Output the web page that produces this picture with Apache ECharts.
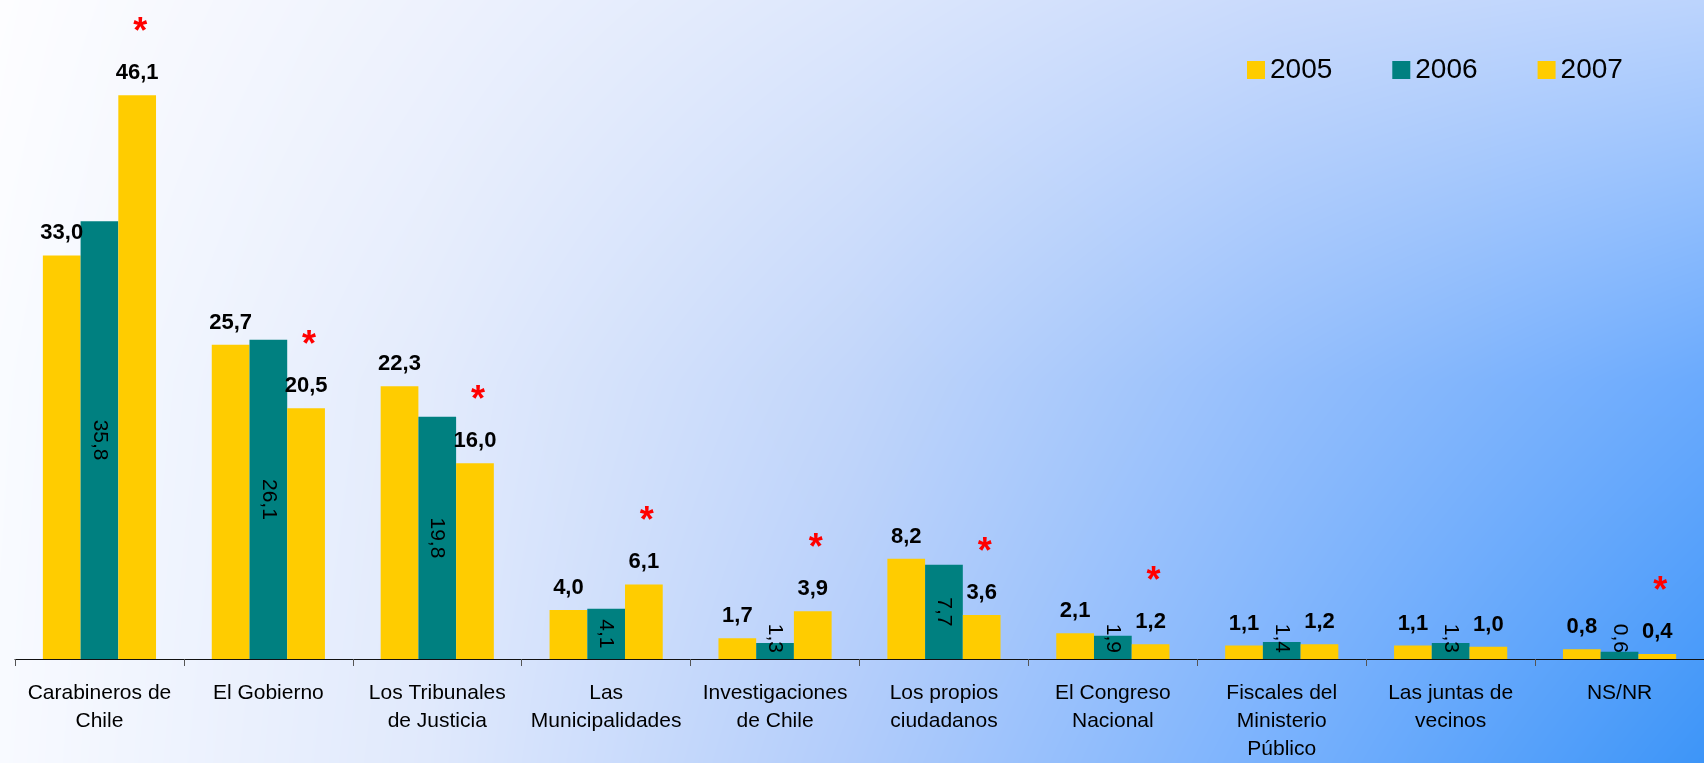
<!DOCTYPE html>
<html>
<head>
<meta charset="utf-8">
<script src="https://cdn.jsdelivr.net/npm/echarts@6/dist/echarts.min.js"></script>
<style>
  html, body { margin: 0; padding: 0; overflow: hidden; background: #ffffff; }
  #bg { position: absolute; left: 0; top: 0; }
  #chart { position: absolute; left: 0; top: 0; width: 1704px; height: 763px; }
</style>
</head>
<body>
<canvas id="bg" width="1704" height="763"></canvas>
<div id="chart"></div>
<script>
// ---------- data ----------
const categories = [
  'Carabineros de\nChile',
  'El Gobierno',
  'Los Tribunales\nde Justicia',
  'Las\nMunicipalidades',
  'Investigaciones\nde Chile',
  'Los propios\nciudadanos',
  'El Congreso\nNacional',
  'Fiscales del\nMinisterio\nPúblico',
  'Las juntas de\nvecinos',
  'NS/NR'
];
const seriesNames = ['2005', '2006', '2007'];
const values2005 = [33.0, 25.7, 22.3, 4.0, 1.7, 8.2, 2.1, 1.1, 1.1, 0.8];
const values2006 = [35.8, 26.1, 19.8, 4.1, 1.3, 7.7, 1.9, 1.4, 1.3, 0.6];
const values2007 = [46.1, 20.5, 16.0, 6.1, 3.9, 3.6, 1.2, 1.2, 1.0, 0.4];
// significance marks (red asterisk) above the 2007 bars
const star2007 = [true, true, true, true, true, true, true, false, false, true];

// ---------- background (colour grid, bilinear) ----------
(function drawBg() {
  const cv = document.getElementById('bg');
  const ctx = cv.getContext('2d');
  const W = cv.width, H = cv.height;
  const hex = h => [parseInt(h.slice(1,3),16), parseInt(h.slice(3,5),16), parseInt(h.slice(5,7),16)];
  const grid = [
    ['#fdfdff', '#eef2fd', '#dde7fc', '#c9dafc', '#bcd4fd'],
    ['#f9fbff', '#e3ebfc', '#c2d6fa', '#94befc', '#6aaafd'],
    ['#f8faff', '#e0e9fc', '#b1ccfb', '#78b1fd', '#3d95f8']
  ].map(r => r.map(hex));
  const nx = grid[0].length - 1, ny = grid.length - 1;
  const img = ctx.createImageData(W, H);
  for (let y = 0; y < H; y++) {
    const gy = y / (H - 1) * ny;
    const j = Math.min(ny - 1, Math.floor(gy));
    const ty = gy - j;
    for (let x = 0; x < W; x++) {
      const gx = x / (W - 1) * nx;
      const i = Math.min(nx - 1, Math.floor(gx));
      const tx = gx - i;
      const idx = (y * W + x) * 4;
      for (let c = 0; c < 3; c++) {
        const a = grid[j][i][c] * (1 - tx) + grid[j][i + 1][c] * tx;
        const b = grid[j + 1][i][c] * (1 - tx) + grid[j + 1][i + 1][c] * tx;
        img.data[idx + c] = a * (1 - ty) + b * ty;
      }
      img.data[idx + 3] = 255;
    }
  }
  ctx.putImageData(img, 0, 0);
})();

// ---------- chart ----------
const FONT = '"Liberation Sans", Arial, Helvetica, sans-serif';
const fmt = v => v.toFixed(1).replace('.', ',');
const SMALL = 3.5; // bars shorter than this get their rotated label anchored at the bottom

const chart = echarts.init(document.getElementById('chart'), null, { renderer: 'canvas' });

const topLabel = {
  show: true,
  position: 'top',
  distance: 11,
  fontFamily: FONT,
  fontSize: 22,
  fontWeight: 'bold',
  lineHeight: 22,
  color: '#000'
};

chart.setOption({
  backgroundColor: 'transparent',
  animation: false,
  textStyle: { fontFamily: FONT },
  legend: {
    data: seriesNames,
    left: 1247,
    top: 56,
    padding: 0,
    icon: 'rect',
    itemWidth: 18,
    itemHeight: 18,
    itemGap: 60,
    textStyle: { fontFamily: FONT, fontSize: 28, color: '#000' }
  },
  grid: { left: 15, top: 47.5, width: 1709, height: 617.5, containLabel: false },
  xAxis: {
    type: 'category',
    data: categories,
    axisLine: { lineStyle: { color: '#111', width: 1.2 } },
    axisTick: { show: true, length: 7, lineStyle: { color: '#555', width: 1 } },
    axisLabel: {
      interval: 0,
      margin: 20,
      fontFamily: FONT,
      fontSize: 21,
      lineHeight: 28,
      color: '#000',
      align: 'center'
    },
    splitLine: { show: false }
  },
  yAxis: {
    type: 'value',
    min: 0,
    max: 50,
    show: false,
    splitLine: { show: false }
  },
  series: [
    {
      name: seriesNames[0],
      type: 'bar',
      barGap: '0%',
      barCategoryGap: '33%',
      itemStyle: { color: '#FFCC00' },
      label: Object.assign({}, topLabel, { formatter: p => fmt(p.value) }),
      data: values2005
    },
    {
      name: seriesNames[1],
      type: 'bar',
      barGap: '0%',
      barCategoryGap: '33%',
      itemStyle: { color: '#008080' },
      label: {
        show: true,
        position: 'inside',
        rotate: -90,
        fontFamily: FONT,
        fontSize: 21,
        color: '#000',
        formatter: p => fmt(p.value)
      },
      data: values2006.map(v => v < SMALL
        ? { value: v, label: { position: 'insideBottom', distance: 6, align: 'right', verticalAlign: 'middle' } }
        : { value: v })
    },
    {
      name: seriesNames[2],
      type: 'bar',
      barGap: '0%',
      barCategoryGap: '33%',
      itemStyle: { color: '#FFCC00' },
      label: {
        show: true,
        position: 'top',
        distance: 11,
        fontFamily: FONT,
        color: '#000',
        formatter: p => (star2007[p.dataIndex] ? '{s|*}\n' : '') + '{v|' + fmt(p.value) + '}',
        rich: {
          v: { fontFamily: FONT, fontSize: 22, fontWeight: 'bold', lineHeight: 22, color: '#000' },
          s: { fontFamily: FONT, fontSize: 36, fontWeight: 'bold', lineHeight: 58, color: '#ff0000', padding: [0, 0, 0, 6] }
        }
      },
      data: values2007
    }
  ]
});
</script>
</body>
</html>
